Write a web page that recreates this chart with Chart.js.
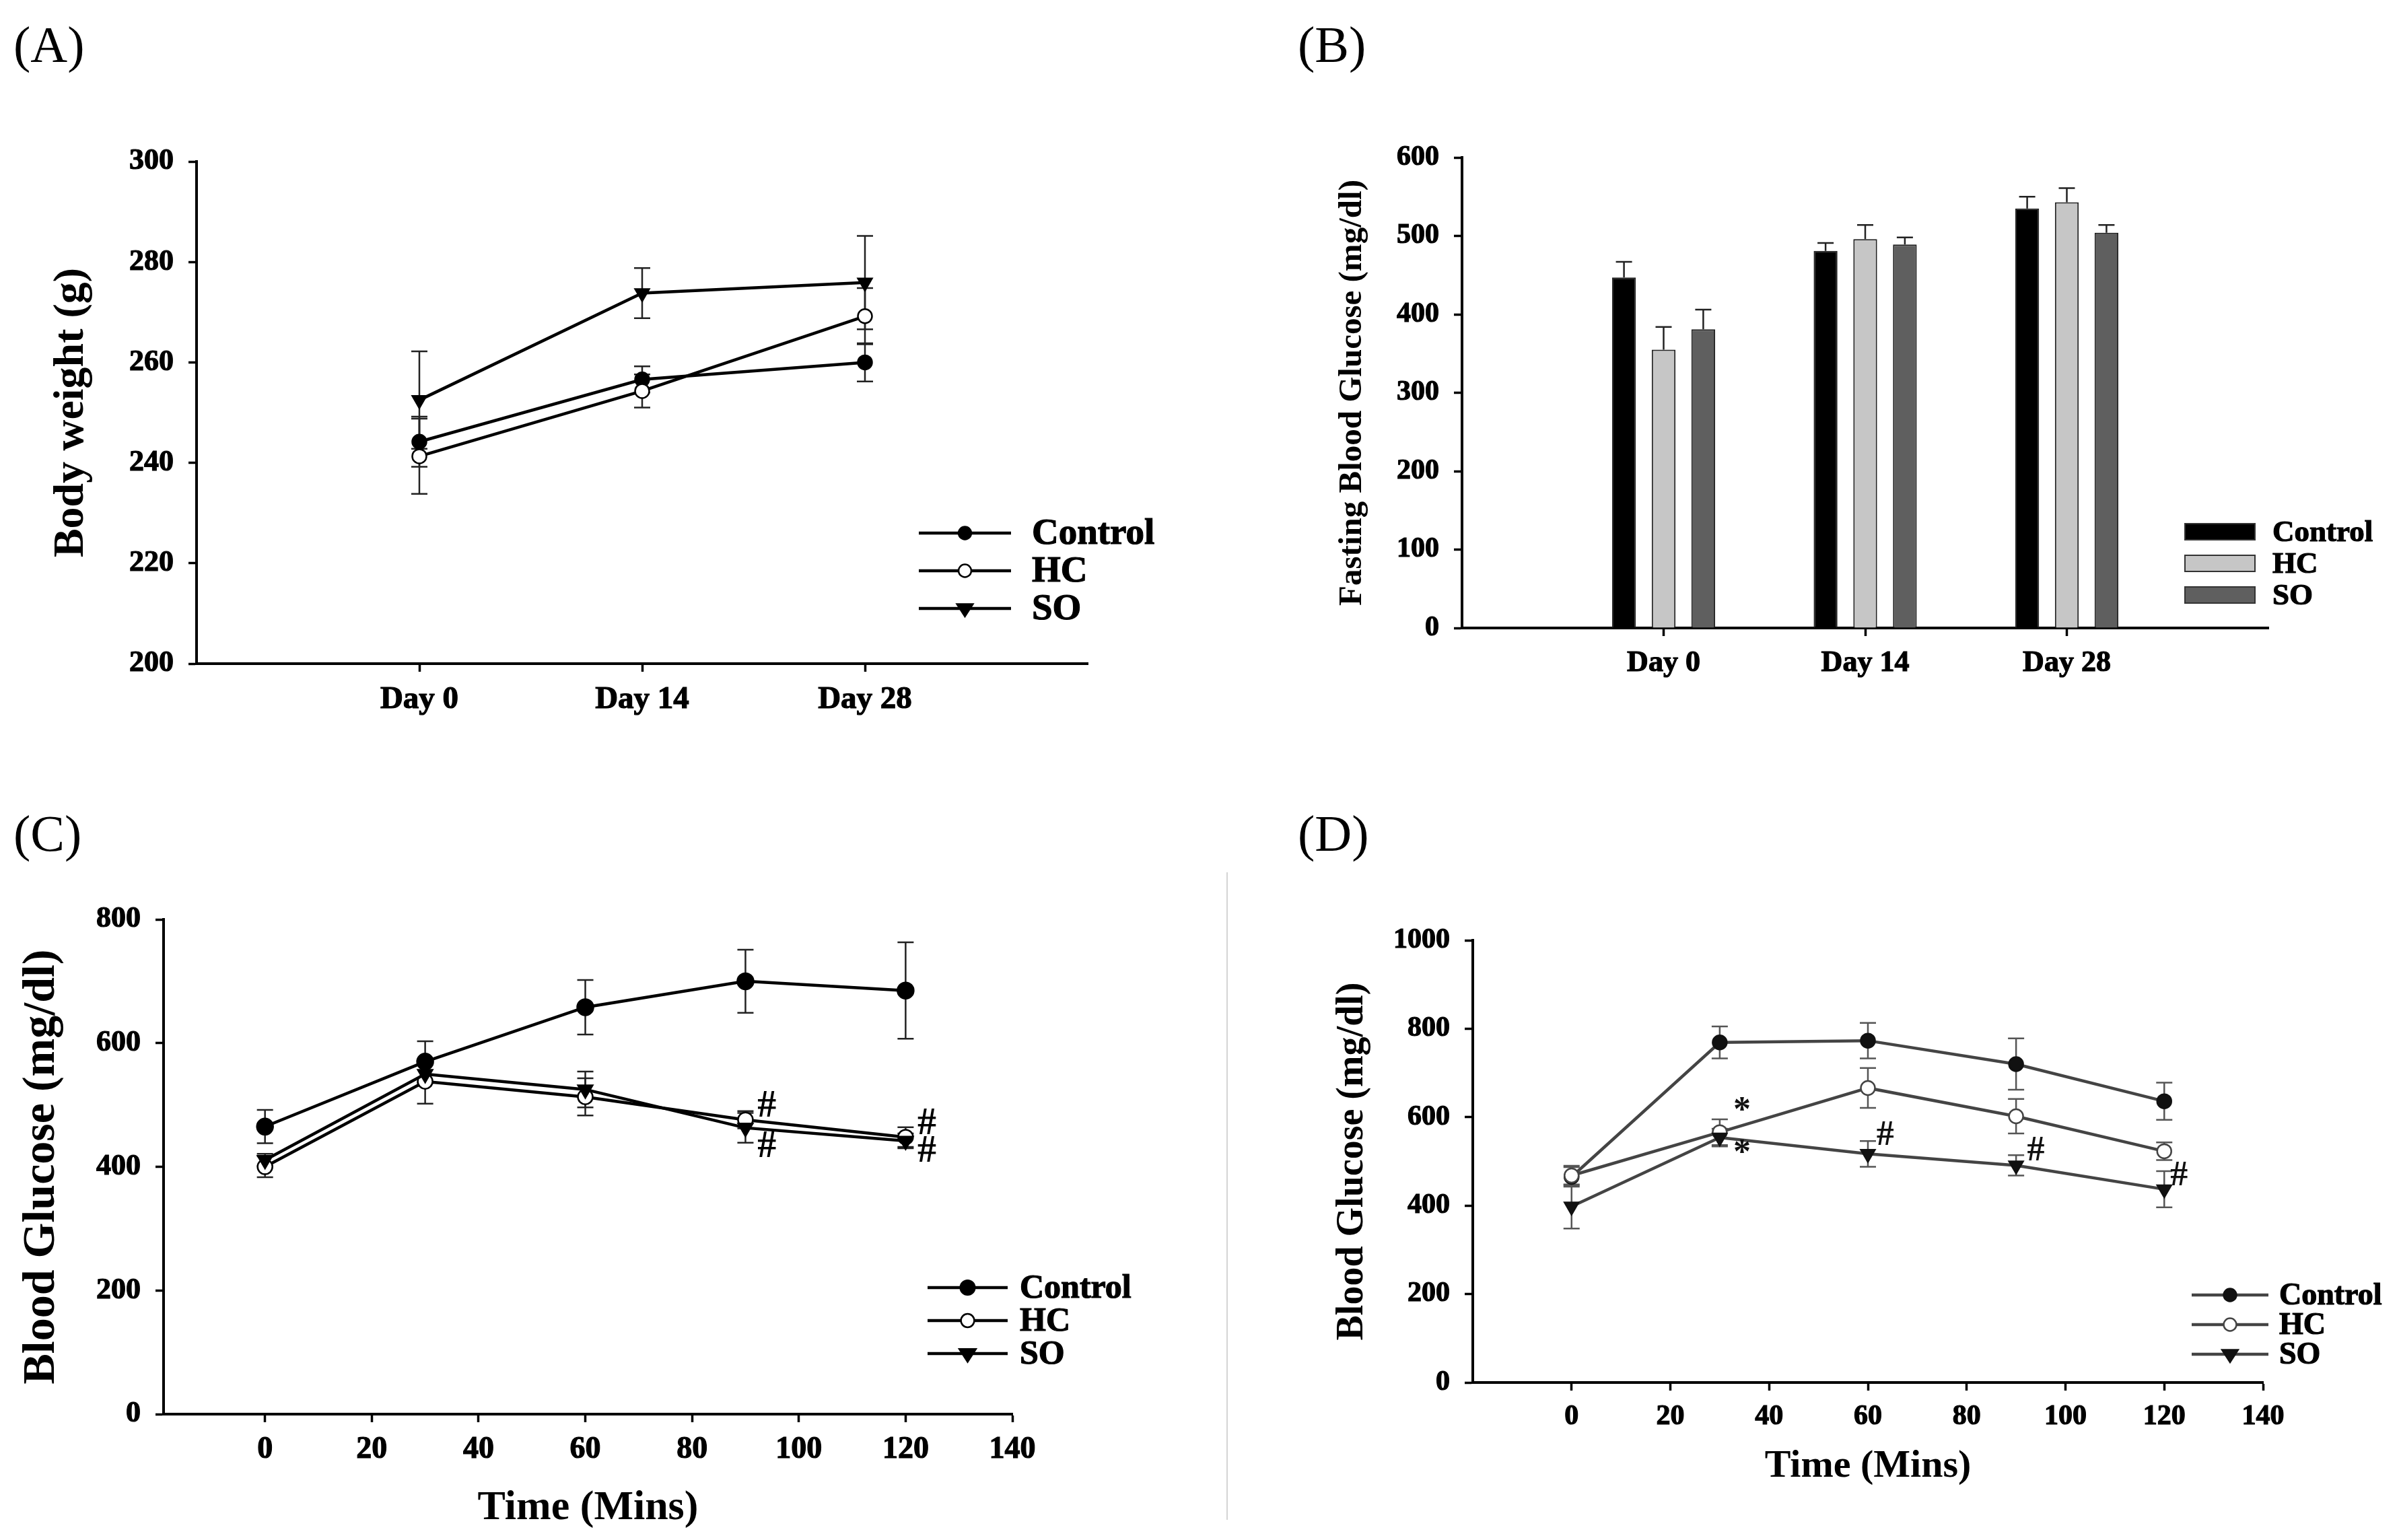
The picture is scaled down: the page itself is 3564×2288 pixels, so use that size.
<!DOCTYPE html>
<html lang="en">
<head>
<meta charset="UTF-8">
<title>Body weight, fasting glucose and tolerance tests</title>
<style>
  body { margin: 0; background: #fff; width: 3564px; height: 2288px; position: relative; overflow: hidden; font-family: 'Liberation Serif', serif; }
  .panel { position: absolute; width: 1782px; height: 1144px; }
  .tag { position: absolute; font-size: 76px; line-height: 1; color: #000; }
  .divider { position: absolute; left: 1822px; top: 1296px; width: 2px; height: 962px; background: #d4d4d4; }
</style>
</head>
<body>
<div class="panel" style="left:0;top:0"><canvas id="chartA" width="1782" height="1144"></canvas></div>
<div class="panel" style="left:1782px;top:0"><canvas id="chartB" width="1782" height="1144"></canvas></div>
<div class="panel" style="left:0;top:1144px"><canvas id="chartC" width="1782" height="1144"></canvas></div>
<div class="panel" style="left:1782px;top:1144px"><canvas id="chartD" width="1782" height="1144"></canvas></div>
<div class="divider"></div>
<div class="tag" style="left:20px;top:28px">(A)</div>
<div class="tag" style="left:1928px;top:28px">(B)</div>
<div class="tag" style="left:20px;top:1200px">(C)</div>
<div class="tag" style="left:1928px;top:1200px">(D)</div>

<script src="https://cdn.jsdelivr.net/npm/chart.js"></script>
<script>
const FONT = "'Liberation Serif', 'Times New Roman', serif";
const seriesNames = ['Control', 'HC', 'SO'];

// (A) body weight
const days = ['Day 0', 'Day 14', 'Day 28'];
const weightControl = [244.2, 256.6, 260.0];
const weightControlErr = [5.0, 2.6, 3.8];
const weightHC = [241.3, 254.3, 269.2];
const weightHCErr = [7.5, 3.3, 5.6];
const weightSO = [252.5, 273.8, 275.9];
const weightSOErr = [9.7, 5.0, 9.3];
const weightTicks = [200, 220, 240, 260, 280, 300];

// (B) fasting blood glucose
const fbgControl = [447, 481, 535];
const fbgControlErr = [20, 10, 15];
const fbgHC = [355, 496, 543];
const fbgHCErr = [29, 18, 18];
const fbgSO = [381, 489, 504];
const fbgSOErr = [25, 9, 10];
const fbgTicks = [0, 100, 200, 300, 400, 500, 600];

// (C) and (D) tolerance tests
const times = [0, 30, 60, 90, 120];
const timeTicks = [0, 20, 40, 60, 80, 100, 120, 140];

const cControl = [465, 570, 658, 700, 685];
const cControlErr = [27, 33, 44, 51, 78];
const cHC = [400, 538, 513, 476, 448];
const cHCErr = [17, 36, 30, 14, 16];
const cSO = [411, 550, 525, 463, 442];
const cSOErr = [10, 15, 29, 24, 12];
const cTicks = [0, 200, 400, 600, 800];
const cMarks = [[94, 497, '#'], [94, 432, '#'], [124, 468, '#'], [124, 424, '#']];

const dControl = [465, 769, 773, 720, 636];
const dControlErr = [22, 36, 40, 58, 42];
const dHC = [468, 566, 666, 602, 523];
const dHCErr = [22, 29, 45, 39, 20];
const dSO = [398, 554, 517, 491, 437];
const dSOErr = [50, 20, 29, 23, 41];
const dTicks = [0, 200, 400, 600, 800, 1000];
const dMarks = [[34.5, 612, '*'], [34.5, 516, '*'], [63.5, 558, '#'], [94, 522, '#'], [123, 467, '#']];

// pad a category series with empty slots at both ends
const pad = arr => [null, ...arr, null];
const points = arr => arr.map((v, i) => ({ x: times[i], y: v }));

function drawMarker(ctx, style, x, y, r, fill, stroke, lw) {
  ctx.save();
  ctx.fillStyle = fill;
  ctx.strokeStyle = stroke;
  ctx.lineWidth = lw;
  ctx.beginPath();
  if (style === 'triangle') {
    ctx.moveTo(x - r * 1.1, y - r * 0.6);
    ctx.lineTo(x + r * 1.1, y - r * 0.6);
    ctx.lineTo(x, y + r * 1.1);
    ctx.closePath();
  } else {
    ctx.arc(x, y, r, 0, Math.PI * 2);
  }
  ctx.fill();
  ctx.stroke();
  ctx.restore();
}

const errorBars = {
  id: 'errorBars',
  beforeDatasetsDraw(chart, args, opts) { if (!opts.upOnly) drawErrors(chart, opts); },
  afterDatasetsDraw(chart, args, opts) { if (opts.upOnly) drawErrors(chart, opts); }
};

function drawErrors(chart, opts) {
  const ctx = chart.ctx;
  const yScale = chart.scales.y;
  chart.data.datasets.forEach((ds, di) => {
    if (!ds.errors) return;
    const meta = chart.getDatasetMeta(di);
    meta.data.forEach((el, i) => {
      const raw = ds.data[i];
      const v = raw !== null && typeof raw === 'object' ? raw.y : raw;
      const e = ds.errors[i];
      if (v == null || e == null) return;
      const x = el.x;
      const top = yScale.getPixelForValue(v + e);
      const bottom = opts.upOnly ? el.y : yScale.getPixelForValue(v - e);
      ctx.save();
      ctx.strokeStyle = opts.color || '#000';
      ctx.lineWidth = opts.width || 2.5;
      ctx.beginPath();
      ctx.moveTo(x, top);
      ctx.lineTo(x, bottom);
      ctx.moveTo(x - opts.cap, top);
      ctx.lineTo(x + opts.cap, top);
      if (!opts.upOnly) {
        ctx.moveTo(x - opts.cap, bottom);
        ctx.lineTo(x + opts.cap, bottom);
      }
      ctx.stroke();
      ctx.restore();
    });
  });
}

const sideLegend = {
  id: 'sideLegend',
  afterDraw(chart, args, opts) {
    const ctx = chart.ctx;
    chart.data.datasets.forEach((ds, i) => {
      const y = opts.y + i * opts.dy;
      ctx.save();
      if (opts.box) {
        ctx.fillStyle = ds.backgroundColor;
        ctx.strokeStyle = '#333';
        ctx.lineWidth = 2;
        ctx.fillRect(opts.x0, y - opts.boxH / 2, opts.x1 - opts.x0, opts.boxH);
        ctx.strokeRect(opts.x0, y - opts.boxH / 2, opts.x1 - opts.x0, opts.boxH);
      } else {
        ctx.strokeStyle = ds.borderColor;
        ctx.lineWidth = ds.borderWidth;
        ctx.beginPath();
        ctx.moveTo(opts.x0, y);
        ctx.lineTo(opts.x1, y);
        ctx.stroke();
        drawMarker(ctx, ds.pointStyle, (opts.x0 + opts.x1) / 2, y, ds.pointRadius * 0.9,
          ds.pointBackgroundColor, ds.pointBorderColor, ds.pointBorderWidth);
      }
      ctx.fillStyle = '#000';
      ctx.strokeStyle = '#000';
      ctx.lineWidth = 1.2;
      ctx.font = 'bold ' + opts.size + 'px ' + FONT;
      ctx.textBaseline = 'middle';
      ctx.fillText(ds.label, opts.textX, y + 2);
      ctx.strokeText(ds.label, opts.textX, y + 2);
      ctx.restore();
    });
  }
};

const marks = {
  id: 'marks',
  afterDatasetsDraw(chart, args, opts) {
    if (!opts.list) return;
    const ctx = chart.ctx;
    ctx.save();
    ctx.fillStyle = opts.color || '#000';
    ctx.font = 'bold ' + opts.size + 'px ' + FONT;
    ctx.textAlign = 'center';
    ctx.textBaseline = 'middle';
    opts.list.forEach(([x, y, t]) => {
      ctx.fillText(t, chart.scales.x.getPixelForValue(x), chart.scales.y.getPixelForValue(y));
    });
    ctx.restore();
  }
};

const tickText = size => ({ family: FONT, weight: 'bold', size: size });

function yAxis(min, max, tickList, title, cfg) {
  return {
    min: min, max: max,
    afterBuildTicks: s => { s.ticks = tickList.map(v => ({ value: v })); },
    afterFit: s => { s.width = cfg.width; },
    ticks: { color: '#000', padding: 22, callback: v => String(v), font: tickText(cfg.tick), textStrokeColor: '#000', textStrokeWidth: 1.2 },
    grid: { drawOnChartArea: false, drawTicks: true, tickLength: 12, tickWidth: 3.5, tickColor: '#000' },
    border: { display: true, color: '#000', width: 4 },
    title: { display: true, text: title, color: '#000', font: { family: FONT, weight: 'bold', size: cfg.title }, padding: { top: cfg.titlePad, bottom: 0 } }
  };
}

function categoryAxis(cfg) {
  return {
    type: 'category',
    offset: false,
    afterFit: s => { s.height = cfg.height; },
    ticks: { color: '#000', padding: 14, autoSkip: false, maxRotation: 0, font: tickText(cfg.tick), textStrokeColor: '#000', textStrokeWidth: 1.2 },
    grid: { offset: false, drawOnChartArea: false, drawTicks: true, tickLength: 12, tickWidth: 3.5,
      tickColor: c => (c.tick && c.tick.label) ? '#000' : 'rgba(0,0,0,0)' },
    border: { display: true, color: '#000', width: 4 }
  };
}

function timeAxis(min, cfg) {
  return {
    type: 'linear',
    min: min, max: 140,
    afterBuildTicks: s => { s.ticks = timeTicks.map(v => ({ value: v })); },
    afterFit: s => { s.height = cfg.height; },
    ticks: { color: '#000', padding: 14, maxRotation: 0, callback: v => String(v), font: tickText(cfg.tick), textStrokeColor: '#000', textStrokeWidth: 1.2 },
    grid: { drawOnChartArea: false, drawTicks: true, tickLength: 12, tickWidth: 3.5, tickColor: '#000' },
    border: { display: true, color: '#000', width: 4 },
    title: { display: true, text: 'Time (Mins)', color: '#000', font: { family: FONT, weight: 'bold', size: cfg.title }, padding: { top: 0, bottom: cfg.titlePad } }
  };
}

// lower order is drawn on top: SO over HC over Control
function lineSet(label, data, errors, kind, line, mark, radius) {
  return {
    label: label,
    data: data,
    errors: errors,
    order: kind === 'so' ? 1 : (kind === 'hc' ? 2 : 3),
    borderColor: line,
    borderWidth: 4.5,
    pointStyle: kind === 'so' ? 'triangle' : 'circle',
    pointRotation: kind === 'so' ? 180 : 0,
    pointRadius: kind === 'so' ? radius + 1.5 : radius,
    pointBackgroundColor: kind === 'hc' ? '#fff' : mark,
    pointBorderColor: mark,
    pointBorderWidth: 2.5,
    tension: 0,
    fill: false
  };
}

const baseOptions = (padTop, padRight) => ({
  responsive: false,
  animation: false,
  devicePixelRatio: 1,
  layout: { padding: { top: padTop, right: padRight, bottom: 0, left: 0 } },
  plugins: { legend: { display: false }, tooltip: { enabled: false } }
});

// (A)
const optA = baseOptions(240, 166);
optA.scales = { x: categoryAxis({ height: 158, tick: 47 }), y: yAxis(200, 300, weightTicks, 'Body weight (g)', { width: 292, tick: 44, title: 64, titlePad: 68 }) };
optA.plugins.errorBars = { cap: 12, width: 2.5, color: '#222' };
optA.plugins.sideLegend = { x0: 1365, x1: 1502, textX: 1533, y: 792, dy: 56, size: 55 };
new Chart(document.getElementById('chartA'), {
  type: 'line',
  data: {
    labels: pad(days).map(d => d || ''),
    datasets: [
      lineSet(seriesNames[0], pad(weightControl), pad(weightControlErr), 'control', '#000', '#000', 10.5),
      lineSet(seriesNames[1], pad(weightHC), pad(weightHCErr), 'hc', '#000', '#000', 10.5),
      lineSet(seriesNames[2], pad(weightSO), pad(weightSOErr), 'so', '#000', '#000', 10.5)
    ]
  },
  options: optA,
  plugins: [errorBars, sideLegend]
});

// (B)
const optB = baseOptions(234, 194);
optB.scales = { x: categoryAxis({ height: 211, tick: 44 }), y: yAxis(0, 600, fbgTicks, 'Fasting Blood Glucose (mg/dl)', { width: 390, tick: 42, title: 49, titlePad: 198 }) };
optB.plugins.errorBars = { cap: 12, width: 2.5, color: '#222', upOnly: true };
optB.plugins.sideLegend = { box: true, x0: 1464, x1: 1568, boxH: 24, textX: 1594, y: 790, dy: 47, size: 45 };
const barSet = (label, data, errors, color) => ({
  label: label, data: data, errors: errors,
  backgroundColor: color, borderColor: '#222', borderWidth: 2,
  categoryPercentage: 0.59, barPercentage: 0.6
});
new Chart(document.getElementById('chartB'), {
  type: 'bar',
  data: {
    labels: pad(days).map(d => d || ''),
    datasets: [
      barSet(seriesNames[0], pad(fbgControl), pad(fbgControlErr), '#000000'),
      barSet(seriesNames[1], pad(fbgHC), pad(fbgHCErr), '#c6c6c6'),
      barSet(seriesNames[2], pad(fbgSO), pad(fbgSOErr), '#5f5f5f')
    ]
  },
  options: optB,
  plugins: [errorBars, sideLegend]
});

// (C)
const optC = baseOptions(222, 278);
optC.scales = { x: timeAxis(-19, { height: 187, tick: 46, title: 62, titlePad: 10 }), y: yAxis(0, 800, cTicks, 'Blood Glucose (mg/dl)', { width: 243, tick: 44, title: 68, titlePad: 22 }) };
optC.plugins.errorBars = { cap: 12, width: 2.5, color: '#222' };
optC.plugins.sideLegend = { x0: 1378, x1: 1497, textX: 1515, y: 769, dy: 49, size: 50 };
optC.plugins.marks = { list: cMarks, size: 56 };
new Chart(document.getElementById('chartC'), {
  type: 'line',
  data: {
    datasets: [
      lineSet(seriesNames[0], points(cControl), cControlErr, 'control', '#000', '#000', 12),
      lineSet(seriesNames[1], points(cHC), cHCErr, 'hc', '#000', '#000', 11),
      lineSet(seriesNames[2], points(cSO), cSOErr, 'so', '#000', '#000', 11)
    ]
  },
  options: optC,
  plugins: [errorBars, sideLegend, marks]
});

// (D)
const optD = baseOptions(253, 202);
optD.scales = { x: timeAxis(-20, { height: 234, tick: 42, title: 58, titlePad: 74 }), y: yAxis(0, 1000, dTicks, 'Blood Glucose (mg/dl)', { width: 406, tick: 42, title: 56, titlePad: 194 }) };
optD.plugins.errorBars = { cap: 12, width: 2.5, color: '#555' };
optD.plugins.sideLegend = { x0: 1474, x1: 1588, textX: 1604, y: 780, dy: 44, size: 46 };
optD.plugins.marks = { list: dMarks, size: 52, color: '#111' };
new Chart(document.getElementById('chartD'), {
  type: 'line',
  data: {
    datasets: [
      lineSet(seriesNames[0], points(dControl), dControlErr, 'control', '#444', '#111', 10.5),
      lineSet(seriesNames[1], points(dHC), dHCErr, 'hc', '#444', '#444', 10.5),
      lineSet(seriesNames[2], points(dSO), dSOErr, 'so', '#444', '#111', 10.5)
    ]
  },
  options: optD,
  plugins: [errorBars, sideLegend, marks]
});
</script>
</body>
</html>
